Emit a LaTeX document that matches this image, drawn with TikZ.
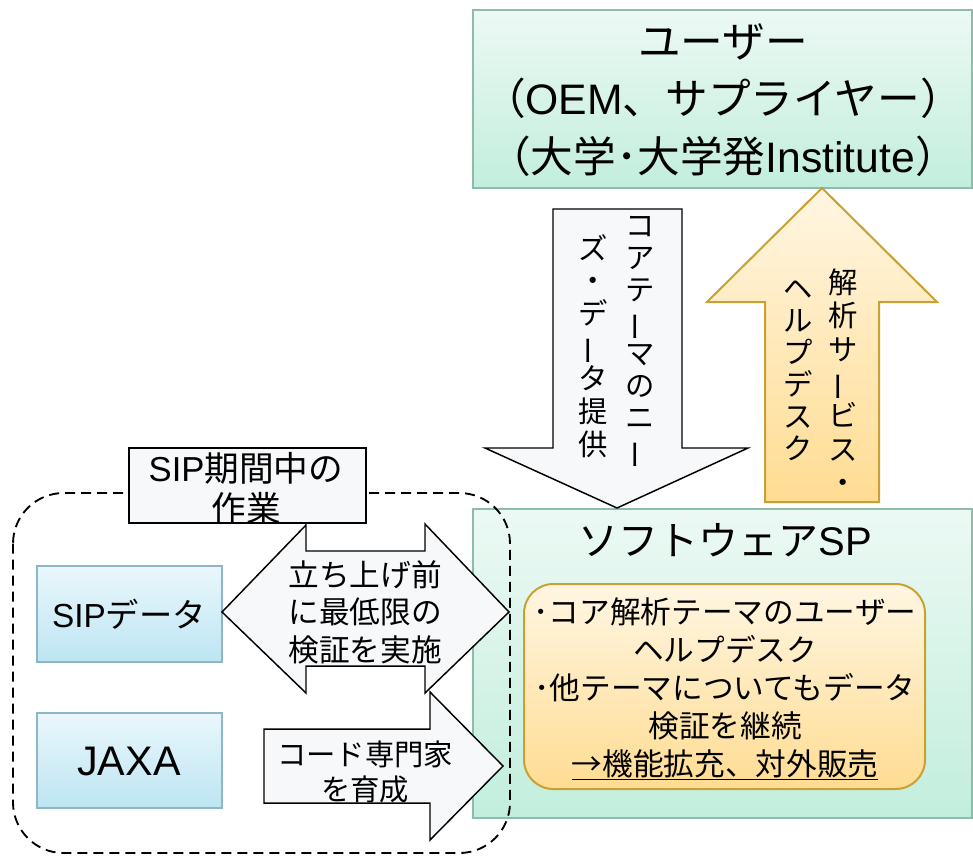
\documentclass[tikz,border=0pt]{standalone}
\usepackage{fontspec}
\usepackage{graphicx}
\setmainfont{Noto Sans CJK JP}
\newfontfamily\lat{Liberation Sans}
\definecolor{mintT}{HTML}{ECF9F4}
\definecolor{mintB}{HTML}{C2EEDD}
\definecolor{mintD}{HTML}{8DBCAB}
\definecolor{blueT}{HTML}{EAF7FC}
\definecolor{blueB}{HTML}{BDE5F3}
\definecolor{blueD}{HTML}{8EB7C6}
\definecolor{orT}{HTML}{FFF6E2}
\definecolor{orB}{HTML}{FFDC92}
\definecolor{orD}{HTML}{C9A133}
\definecolor{wfill}{HTML}{F7F8FA}
\newcommand{\vbar}{\rotatebox[origin=c]{90}{ー}}
\tikzset{
  mintbox/.style={top color=mintT, bottom color=mintB, draw=mintD, line width=1.5pt},
  bluebox/.style={top color=blueT, bottom color=blueB, draw=blueD, line width=1.5pt},
  orbox/.style={top color=orT, bottom color=orB, draw=orD, line width=1.5pt},
  wshape/.style={fill=wfill, draw=black, line width=1.1pt},
  txt/.style={align=center, inner sep=0pt, text=black},
}
\begin{document}
\begin{tikzpicture}[x=0.75pt,y=-0.75pt]
\useasboundingbox (0,0) rectangle (973,858);
\fill[white] (0,0) rectangle (973,858);

% user box
\shade[mintbox] (473,10) rectangle (972,188);
\node[txt, font=\fontsize{32}{43}\selectfont] (user) at (723,100)
  {ユーザー\\（{\lat OEM}、サプライヤー）\\（大学･大学発{\lat Institute}）};

% software SP box
\shade[mintbox] (473,509) rectangle (972,818);
\node[txt, font=\fontsize{30}{36}\selectfont] (sp) at (725,540) {ソフトウェア{\lat SP}};

% inner box
\shade[orbox, rounded corners=22pt] (524,584) rectangle (925,789);
\node[txt, font=\fontsize{23}{28.5}\selectfont] (inner) at (725,689)
  {･コア解析テーマのユーザー\\ヘルプデスク\\･他テーマについてもデータ\\検証を継続\\\underline{→機能拡充、対外販売}};

% up arrow
\shade[orbox] (765,502) -- (765,302) -- (707,302) -- (822,188) -- (937,302) -- (879,302) -- (879,502) -- cycle;
\node[txt, font=\fontsize{22}{25}\selectfont] (up1) at (843,381) {解\\析\\サ\\\vbar\\ビ\\ス\\・};
\node[txt, font=\fontsize{22}{24}\selectfont] (up2) at (798,371) {ヘ\\ル\\プ\\デ\\ス\\ク};

% down arrow
\draw[wshape] (553,209) -- (682,209) -- (682,448) -- (748,448) -- (617,508) -- (485,448) -- (553,448) -- cycle;
\node[txt, font=\fontsize{22}{24}\selectfont] (dn1) at (640,343) {コ\\ア\\テ\\\vbar\\マ\\の\\ニ\\\vbar};
\node[txt, font=\fontsize{22}{24.5}\selectfont] (dn2) at (593,346) {ズ\\・\\デ\\\vbar\\タ\\提\\供};

% dashed region
\draw[dashed, dash pattern=on 7.5pt off 4.5pt, line width=1.4pt, rounded corners=38pt] (13,493) rectangle (510,853);

% SIP data and JAXA
\shade[bluebox] (37,566) rectangle (222,662);
\node[txt, font=\fontsize{25}{30}\selectfont] (sip) at (129,614) {{\lat SIP}データ};
\shade[bluebox] (37,713) rectangle (222,808);
\node[txt, font=\fontsize{31}{36}\selectfont] (jaxa) at (129,761) {\lat JAXA};

% double arrow
\draw[wshape] (222,612) -- (306,525) -- (306,551) -- (425,551) -- (425,524) -- (509,612) -- (425,693) -- (425,666) -- (306,666) -- (306,693) -- cycle;
\node[txt, font=\fontsize{23}{28}\selectfont] (verify) at (365,612) {立ち上げ前\\に最低限の\\検証を実施};

% right arrow
\draw[wshape] (264,729) -- (430,729) -- (430,692) -- (503,766) -- (430,840) -- (430,803) -- (264,803) -- cycle;
\node[txt, font=\fontsize{22}{26}\selectfont] (train) at (365,772) {コード専門家\\を育成};

% label box
\draw[wshape] (129,448) rectangle (366,523);
\node[txt, font=\fontsize{26}{30}\selectfont] (label) at (246,488) {{\lat SIP}期間中の\\作業};
\end{tikzpicture}
\end{document}
